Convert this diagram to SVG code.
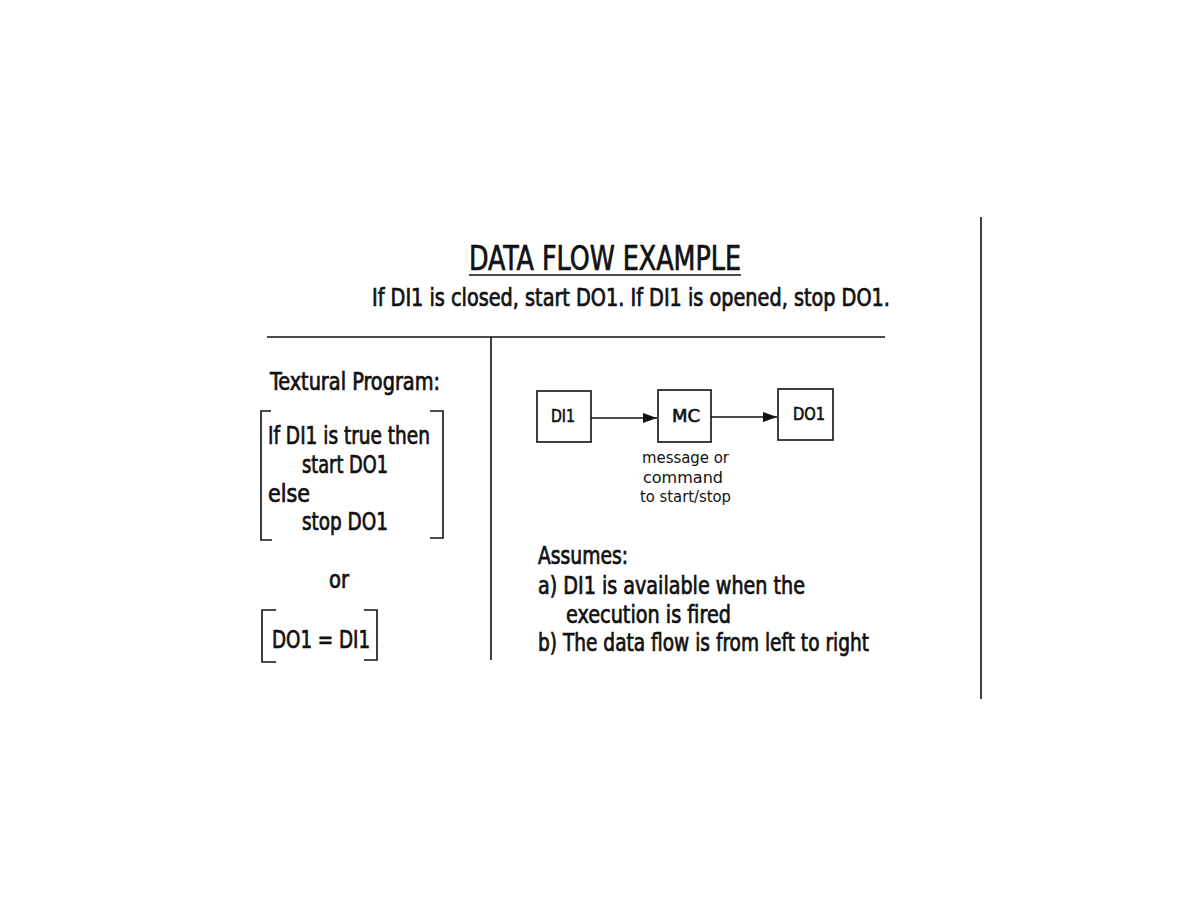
<svg xmlns="http://www.w3.org/2000/svg" width="1188" height="918" viewBox="0 0 1188 918">
<defs>
<style>
.t{font-family:"DejaVu Sans Condensed","DejaVu Sans","Liberation Sans",sans-serif;fill:#111;stroke:#111;stroke-width:0.7;}
.b{font-size:24px;}
.s{font-size:17px;stroke-width:0.6;}
.l{font-size:16px;stroke-width:0;}
.ln{stroke:#111;stroke-width:1.6;fill:none;}
.box{stroke:#111;stroke-width:1.6;fill:#fff;}
</style>
<marker id="ah" viewBox="0 0 14 10" refX="14" refY="5" markerWidth="14" markerHeight="10" markerUnits="userSpaceOnUse" orient="auto">
<path d="M0,0 L14,5 L0,10 z" fill="#111"/>
</marker>
</defs>
<rect width="1188" height="918" fill="#fff"/>

<g id="title">
<text class="t" x="469" y="270" font-size="33" textLength="272" lengthAdjust="spacingAndGlyphs">DATA FLOW EXAMPLE</text>
<line class="ln" x1="469" y1="275" x2="741" y2="275" stroke-width="2.2"/>
<text class="t b" x="372" y="306" textLength="518" lengthAdjust="spacingAndGlyphs">If DI1 is closed, start DO1.  If DI1 is opened, stop DO1.</text>
</g>

<g id="frame">
<line class="ln" x1="267" y1="337" x2="885" y2="337"/>
<line class="ln" x1="491" y1="337" x2="491" y2="660"/>
<line class="ln" x1="981" y1="217" x2="981" y2="699"/>
</g>

<g id="textual-program">
<text class="t b" x="270" y="390" textLength="170" lengthAdjust="spacingAndGlyphs">Textural Program:</text>
<path class="ln" d="M271,411 H261 V540 H272"/>
<path class="ln" d="M430,411 H443 V538 H430"/>
<text class="t b" x="268" y="444" textLength="162" lengthAdjust="spacingAndGlyphs">If DI1 is true then</text>
<text class="t b" x="302" y="473" textLength="86" lengthAdjust="spacingAndGlyphs">start DO1</text>
<text class="t b" x="268" y="502" textLength="42" lengthAdjust="spacingAndGlyphs">else</text>
<text class="t b" x="302" y="530" textLength="86" lengthAdjust="spacingAndGlyphs">stop DO1</text>
<text class="t b" x="329" y="588" textLength="20" lengthAdjust="spacingAndGlyphs">or</text>
<path class="ln" d="M276,610 H262 V662 H276"/>
<path class="ln" d="M364,610 H377 V660 H364"/>
<text class="t b" x="272" y="648" textLength="98" lengthAdjust="spacingAndGlyphs">DO1 = DI1</text>
</g>

<g id="connectors">
<line class="ln" x1="591" y1="418" x2="657" y2="418" marker-end="url(#ah)"/>
<line class="ln" x1="711" y1="417" x2="777" y2="417" marker-end="url(#ah)"/>
</g>

<g id="node-di1">
<rect class="box" x="537" y="391" width="54" height="51"/>
<text class="t s" x="563" y="422" text-anchor="middle" textLength="24" lengthAdjust="spacingAndGlyphs">DI1</text>
</g>
<g id="node-mc">
<rect class="box" x="658" y="390" width="53" height="52"/>
<text class="t s" x="686" y="422" text-anchor="middle" textLength="28" lengthAdjust="spacingAndGlyphs">MC</text>
</g>
<g id="node-do1">
<rect class="box" x="778" y="389" width="55" height="51"/>
<text class="t s" x="809" y="420" text-anchor="middle" textLength="32" lengthAdjust="spacingAndGlyphs">DO1</text>
</g>

<g id="note">
<text class="t l" x="642" y="463" textLength="87" lengthAdjust="spacingAndGlyphs">message or</text>
<text class="t l" x="643" y="483" textLength="80" lengthAdjust="spacingAndGlyphs">command</text>
<text class="t l" x="640" y="502" textLength="91" lengthAdjust="spacingAndGlyphs">to start/stop</text>
</g>

<g id="assumes">
<text class="t b" x="538" y="564" textLength="90" lengthAdjust="spacingAndGlyphs">Assumes:</text>
<text class="t b" x="538" y="594" textLength="267" lengthAdjust="spacingAndGlyphs">a) DI1 is available when the</text>
<text class="t b" x="566" y="623" textLength="165" lengthAdjust="spacingAndGlyphs">execution is fired</text>
<text class="t b" x="538" y="651" textLength="331" lengthAdjust="spacingAndGlyphs">b) The data flow is from left to right</text>
</g>
</svg>
